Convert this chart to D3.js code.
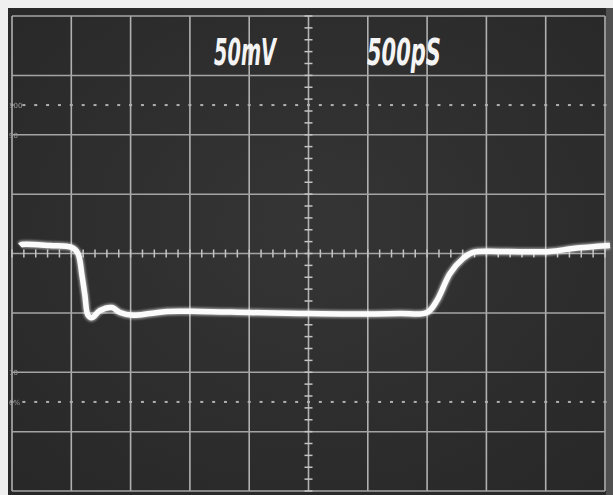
<!DOCTYPE html>
<html>
<head>
<meta charset="utf-8">
<script src="https://cdn.jsdelivr.net/npm/d3@7"></script>
<style>
  body { margin: 0; background: #efefef; overflow: hidden; }
</style>
</head>
<body>
<script>
// trace: time in ps, level in mV from centre line
var timePs = [67, 84, 320, 506, 556, 590, 615, 641, 675, 742, 843, 911, 1020, 1164, 1307, 1585,
              2007, 2428, 2850, 3271, 3499, 3583, 3693, 3803, 3887, 4115, 4536, 4730, 5042];
var voltMv = [6.7, 7.6, 6.7, 5.0, 0, -18.5, -35.4, -52, -54, -48, -45.5, -49.7, -52, -50.5, -48.8, -48.8,
              -49.7, -50.5, -51, -50.5, -49.7, -39.6, -16.8, -4.2, 1.0, 1.7, 1.7, 4.2, 6.7];

// scope settings / graticule
var voltsPerDiv = 50;      // mV
var timePerDiv = 500;      // ps
var settingLabels = ["50mV", "500pS"];
var percentLabels = ["100", "90", "10", "0%"];
var percentLevels = [125, 100, -100, -125];

var w = 613;
var h = 495;

var svg = d3.select("body").append("svg")
  .attr("width", w)
  .attr("height", h);

var defs = svg.append("defs");
defs.append("filter").attr("id", "soft")
  .append("feGaussianBlur").attr("stdDeviation", 0.6);
defs.append("filter").attr("id", "glow")
  .append("feGaussianBlur").attr("stdDeviation", 0.9);

var grad = defs.append("radialGradient").attr("id", "screen")
  .attr("cx", "50%").attr("cy", "45%").attr("r", "70%");
grad.append("stop").attr("offset", "0%").attr("stop-color", "#353535");
grad.append("stop").attr("offset", "100%").attr("stop-color", "#282828");

// screen area
svg.append("rect")
  .attr("x", 8).attr("y", 8)
  .attr("width", w - 8).attr("height", h - 8)
  .attr("fill", "url(#screen)");
svg.append("rect")
  .attr("x", 606).attr("y", 8)
  .attr("width", 7).attr("height", h - 8)
  .attr("fill", "#505050");

var x = d3.scaleLinear().domain([0, 10 * timePerDiv]).range([12, 605]);
var y = d3.scaleLinear().domain([-4 * voltsPerDiv, 4 * voltsPerDiv]).range([491, 16]);

var grid = svg.append("g").attr("filter", "url(#soft)");

// major divisions
grid.selectAll(".vline")
  .data(d3.range(0, 10 * timePerDiv + 1, timePerDiv))
  .enter().append("line")
  .attr("x1", function(d) { return x(d); })
  .attr("x2", function(d) { return x(d); })
  .attr("y1", y.range()[1])
  .attr("y2", y.range()[0])
  .style("stroke", "#b0b0b0")
  .style("stroke-width", 1.6);

grid.selectAll(".hline")
  .data(d3.range(-4 * voltsPerDiv, 4 * voltsPerDiv + 1, voltsPerDiv))
  .enter().append("line")
  .attr("x1", x.range()[0])
  .attr("x2", x.range()[1])
  .attr("y1", function(d) { return y(d); })
  .attr("y2", function(d) { return y(d); })
  .style("stroke", "#a4a4a4")
  .style("stroke-width", 1.5);

// minor ticks on the centre lines, 5 per division
var minorT = d3.range(0, 10 * timePerDiv + 1, timePerDiv / 5);
var minorV = d3.range(-4 * voltsPerDiv, 4 * voltsPerDiv + 1, voltsPerDiv / 5);

grid.selectAll(".tickx")
  .data(minorT)
  .enter().append("line")
  .attr("x1", function(d) { return x(d); })
  .attr("x2", function(d) { return x(d); })
  .attr("y1", y(0) - 4)
  .attr("y2", y(0) + 4)
  .style("stroke", "#c4c4c4")
  .style("stroke-width", 1.5);

grid.selectAll(".ticky")
  .data(minorV)
  .enter().append("line")
  .attr("x1", x(5 * timePerDiv) - 4)
  .attr("x2", x(5 * timePerDiv) + 4)
  .attr("y1", function(d) { return y(d); })
  .attr("y2", function(d) { return y(d); })
  .style("stroke", "#c4c4c4")
  .style("stroke-width", 1.5);

// dotted 0% / 100% lines
percentLevels.filter(function(d) { return Math.abs(d) > 100; }).forEach(function(lv) {
  grid.selectAll(null)
    .data(minorT)
    .enter().append("rect")
    .attr("x", function(d) { return x(d) - 1.5; })
    .attr("y", y(lv) - 1)
    .attr("width", 3)
    .attr("height", 2)
    .attr("fill", "#b0b0b0");
});

// faint percent labels at the left edge
svg.selectAll(".pct")
  .data(percentLabels)
  .enter().append("text")
  .text(function(d) { return d; })
  .attr("x", 9)
  .attr("y", function(d, i) { return y(percentLevels[i]) + 3; })
  .attr("font-family", "DejaVu Sans")
  .attr("font-size", 7)
  .attr("fill", "#9a9a9a")
  .attr("filter", "url(#soft)");

// settings text
var settingX = [214, 367];
var settingW = [62, 74];
svg.selectAll(".setting")
  .data(settingLabels)
  .enter().append("text")
  .text(function(d) { return d; })
  .attr("x", function(d, i) { return settingX[i]; })
  .attr("y", 65)
  .attr("textLength", function(d, i) { return settingW[i]; })
  .attr("lengthAdjust", "spacingAndGlyphs")
  .attr("font-family", "DejaVu Sans")
  .attr("font-weight", "bold")
  .attr("font-style", "italic")
  .attr("font-size", 37)
  .attr("fill", "#f4f4f4");

// trace
var line = d3.line()
  .x(function(d, i) { return x(timePs[i]); })
  .y(function(d) { return y(d); })
  .curve(d3.curveCatmullRom);

svg.append("path")
  .datum(voltMv)
  .attr("d", line)
  .attr("fill", "none")
  .attr("stroke", "#ffffff")
  .attr("stroke-opacity", 0.5)
  .attr("stroke-width", 8)
  .attr("filter", "url(#glow)");

svg.append("path")
  .datum(voltMv)
  .attr("d", line)
  .attr("fill", "none")
  .attr("stroke", "#fbfbfb")
  .attr("stroke-width", 5.5)
  .attr("stroke-linejoin", "round");
</script>
</body>
</html>
